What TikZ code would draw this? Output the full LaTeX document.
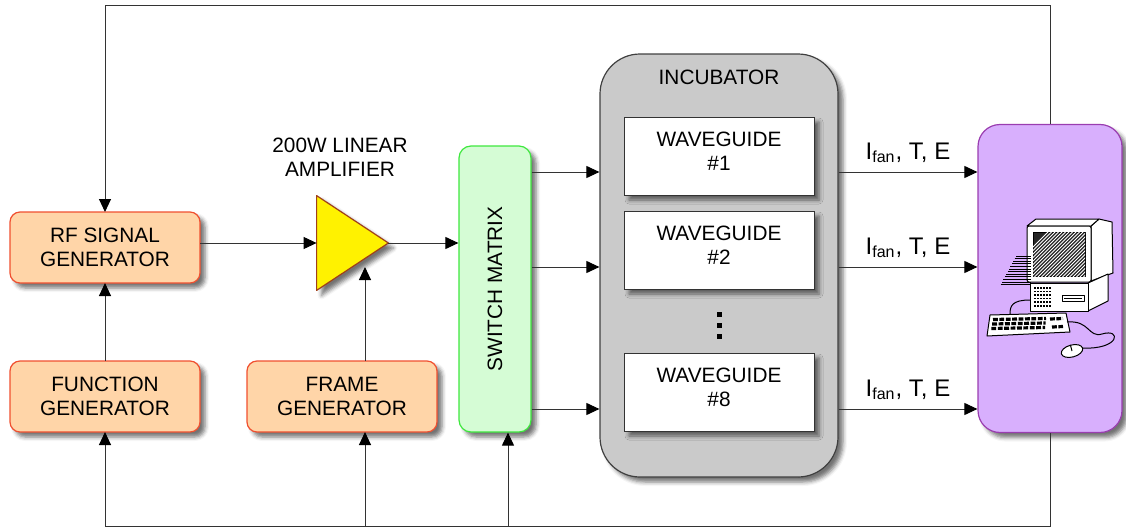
\documentclass[tikz,border=0pt]{standalone}
\usepackage{fontspec}
\setmainfont{Liberation Sans}
\usetikzlibrary{arrows.meta, positioning, shadows.blur}

\definecolor{genfill}{HTML}{FFD5A8}
\definecolor{genline}{HTML}{F05030}
\definecolor{swfill}{HTML}{D5FCD5}
\definecolor{swline}{HTML}{3EE83E}
\definecolor{incfill}{HTML}{CACACA}
\definecolor{incline}{HTML}{404040}
\definecolor{pcfill}{HTML}{D8AFFD}
\definecolor{pcline}{HTML}{9A3DB0}
\definecolor{ampline}{HTML}{A0401A}

\begin{document}
\begin{tikzpicture}[
			x=0.5pt, y=-0.5pt,
			font=\fontsize{10.4}{12}\selectfont,
			node distance=8pt,
			dropshade/.style={
				blur shadow={shadow xshift=2.5pt, shadow yshift=-2.5pt, shadow blur radius=2pt, shadow opacity=55}
			},
			gen/.style={
				rectangle,
				draw=genline,
				fill=genfill,
				line width=0.6pt,
				rounded corners=5pt,
				minimum width=95pt,
				minimum height=35.5pt,
				align=center,
				outer sep=0pt,
				dropshade
			},
			wguide/.style={
				rectangle,
				draw=black!80,
				fill=white,
				line width=0.5pt,
				minimum width=95pt,
				minimum height=39pt,
				align=center,
				outer sep=0pt,
				dropshade
			},
			arrow/.style={
				-{Triangle[length=6.5pt, width=6pt, color=black]},
				draw=black!80,
				line width=0.5pt
			},
			meas/.style={font=\fontsize{12}{14}\selectfont, above=1pt},
			icon/.style={draw=black, line width=0.5pt, line join=round}
			]
			
			\useasboundingbox (0,0) rectangle (1126,530);
			
			% Generators
			\node[gen] (rfgen) at (105,247.5) {RF SIGNAL\\GENERATOR};
			\node[gen, below=39pt of rfgen] (funcgen) {FUNCTION\\GENERATOR};
			\node[gen, right=23.5pt of funcgen] (framegen) {FRAME\\GENERATOR};
			
			% Amplifier
			\node[minimum width=35.5pt, minimum height=47pt, inner sep=0pt] (amp) at (352.5,243) {};
			\draw[fill=yellow, draw=ampline, line width=0.6pt, line join=round, dropshade]
				(amp.north west) -- (amp.east) -- (amp.south west) -- cycle;
			\node[align=center] (amplbl) at (340,157) {200W LINEAR\\AMPLIFIER};
			\coordinate (ampin) at (365,267);
			
			% Switch matrix
			\node[rectangle, draw=swline, fill=swfill, line width=0.6pt, rounded corners=6pt,
				minimum width=36pt, minimum height=143pt, dropshade] (switch) at (495,289) {};
			\node[rotate=90] (swlbl) at (switch) {SWITCH MATRIX};
			\coordinate (swin) at (508,0);
			
			% Incubator with waveguides
			\node[rectangle, draw=incline, fill=incfill, line width=0.6pt, rounded corners=20pt,
				minimum width=119pt, minimum height=211.5pt, dropshade] (incub) at (719,265.5) {};
			\node (inclbl) at ([yshift=-12pt]incub.north) {INCUBATOR};
			\node[wguide] (wg1) at (719,156) {WAVEGUIDE\\\#1\\[-7pt]\mbox{}};
			\node[wguide, below=of wg1] (wg2) {WAVEGUIDE\\\#2\\[-7pt]\mbox{}};
			\node[wguide, below=32pt of wg2] (wg8) {WAVEGUIDE\\\#8\\[-7pt]\mbox{}};
			\foreach \d in {314,325,336}
				\fill (716.5,\d-2.5) rectangle (721.5,\d+2.5);
			
			% Computer
			\node[rectangle, draw=pcline, fill=pcfill, line width=0.6pt, rounded corners=11pt,
				minimum width=72pt, minimum height=154pt, dropshade] (pc) at (1050,278.5) {};
			
			% monitor
			\draw[icon, fill=white] (1091,226) -- (1099,219) -- (1112,222) -- (1113,273) -- (1091,281) -- cycle;
			\draw[icon, fill=white] (1027,226) -- (1036,219) -- (1099,219) -- (1091,226) -- cycle;
			\draw[icon, fill=white, rounded corners=1pt] (1027,226) rectangle (1091,282);
			\draw[icon, fill=black!85] (1033,232) rectangle (1085,276);
			\begin{scope}
				\clip (1033,232) rectangle (1085,276);
				\foreach \i in {0,...,26}
					\draw[white, line width=0.5pt] (1000+\i*3.5,280) -- ++(50,-50);
			\end{scope}
			% speed lines
			\foreach \i in {0,...,11}
				\draw[icon, line width=0.45pt] (1016-\i*1.4,256+\i*2.6) -- (1031,256+\i*2.6);
			% base unit
			\draw[icon, fill=white] (1088,283) -- (1108,274) -- (1108,301) -- (1088,311) -- cycle;
			\draw[icon, fill=white] (1030,283) rectangle (1088,311);
			\foreach \i in {0,...,5}
				\foreach \j in {0,...,5}
					\fill (1034+\i*3,287+\j*3.6) rectangle ++(1.6,1.6);
			\draw[icon, fill=white] (1062,295) rectangle (1084,301);
			\draw[icon] (1064,298) -- (1082,298);
			% keyboard
			\draw[icon] (1030,300) .. controls (1012,300) and (1010,306) .. (1010,314);
			\draw[icon, fill=white] (990,315) -- (1066,313) -- (1070,332) -- (987,336) -- cycle;
			\foreach \k in {0,1,2}
				\draw[line width=1.6pt, dash pattern=on 2.4pt off 0.8pt]
					(993-\k*0.8,319.5+\k*4.5) -- (1046-\k*0.4,318.5+\k*4.5);
			\draw[line width=1.6pt, dash pattern=on 2.4pt off 0.8pt] (1050,319) -- (1063,318.5);
			\draw[line width=1.6pt, dash pattern=on 2.4pt off 0.8pt] (1052,327) -- (1063,326.5);
			% mouse and cable
			\draw[icon] (1067,322) .. controls (1090,320) and (1088,338) .. (1102,334)
				.. controls (1122,328) and (1120,350) .. (1082,348);
			\draw[icon, fill=white, rotate around={15:(1072,351)}] (1072,351) ellipse (11 and 6);
			\draw[icon, rotate around={15:(1072,351)}] (1072,345) -- (1072,351);
			
			% Signal path
			\draw[arrow] (rfgen.east |- amp) -- (amp.west);
			\draw[arrow] (amp.east) -- (switch.west |- amp);
			\draw[arrow] (funcgen) -- (rfgen);
			\draw[arrow] (framegen.north -| ampin) -- (ampin);
			
			% Switch outputs and measurements
			\coordinate (row1) at (0,172);
			\coordinate (row2) at (0,267);
			\coordinate (row3) at (0,409);
			\foreach \r in {row1,row2,row3} {
				\draw[arrow] (switch.east |- \r) -- (incub.west |- \r);
				\draw[arrow] (incub.east |- \r) -- node[meas] (\r lbl) {I\textsubscript{fan}, T, E} (pc.west |- \r);
			}
			
			% Control bus
			\coordinate (busT) at (0,5);
			\coordinate (busB) at (0,526);
			\draw[arrow] (pc.north) |- (rfgen.north |- busT) -- (rfgen.north);
			\draw[arrow] (pc.south) |- (funcgen.south |- busB) -- (funcgen.south);
			\draw[arrow] (ampin |- busB) -- (ampin |- framegen.south);
			\draw[arrow] (swin |- busB) -- (swin |- switch.south);
			
		\end{tikzpicture}
\end{document}
